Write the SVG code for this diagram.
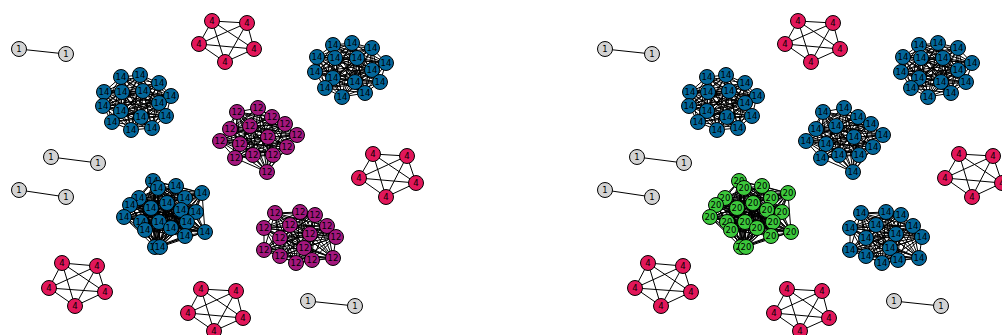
<svg xmlns="http://www.w3.org/2000/svg" xmlns:xlink="http://www.w3.org/1999/xlink" width="1002" height="335" viewBox="0 0 1002 335">
<style>
.n circle{stroke:#000;stroke-width:1}
.n text{font-family:"DejaVu Sans","Liberation Sans",sans-serif;font-size:8.5px;text-anchor:middle;fill:#000}
.b circle{fill:#03669a}
.m circle{fill:#a3177d}
.r circle{fill:#e2175a}
.g circle{fill:#3cc83c}
.w circle{fill:#d3d3d3}
</style>
<rect width="1002" height="335" fill="#fff"/>
<g id="connectors">
<g id="edgesL" fill="none" stroke="#000" stroke-width="1" stroke-linejoin="round">
<path id="eA" d="M152 128 121 77 140 75 131 130 159 83 112 122 104 92 166 116 122 92 141 117 143 91 121 111 171 96 159 103 103 106 152 128 140 75 159 83 121 77 104 92 131 130 122 92 112 122 143 91 166 116 171 96 141 117 103 106 121 111 159 103 152 128 159 83 104 92 140 75 122 92 121 77 143 91 131 130 171 96 112 122 103 106 166 116 159 103 141 117 121 111 152 128 104 92 122 92 159 83 143 91 140 75 171 96 121 77 103 106 131 130 159 103 112 122 121 111 166 116 141 117 152 128 122 92 143 91 104 92 171 96 159 83 103 106 140 75 159 103 121 77 121 111 131 130 141 117 112 122 166 116 152 128 143 91 171 96 122 92 103 106 104 92 159 103 159 83 121 111 140 75 141 117 121 77 166 116 131 130 112 122 152 128 171 96 103 106 143 91 159 103 122 92 121 111 104 92 141 117 159 83 166 116 140 75 112 122 121 77 131 130 152 128"/>
<path id="eB" d="M365 93 333 45 352 43 342 97 372 48 325 88 317 57 380 82 335 58 355 82 357 58 333 78 386 63 372 70 315 72 365 93 352 43 372 48 333 45 317 57 342 97 335 58 325 88 357 58 380 82 386 63 355 82 315 72 333 78 372 70 365 93 372 48 317 57 352 43 335 58 333 45 357 58 342 97 386 63 325 88 315 72 380 82 372 70 355 82 333 78 365 93 317 57 335 58 372 48 357 58 352 43 386 63 333 45 315 72 342 97 372 70 325 88 333 78 380 82 355 82 365 93 335 58 357 58 317 57 386 63 372 48 315 72 352 43 372 70 333 45 333 78 342 97 355 82 325 88 380 82 365 93 357 58 386 63 335 58 315 72 317 57 372 70 372 48 333 78 352 43 355 82 333 45 380 82 342 97 325 88 365 93 386 63 315 72 357 58 372 70 335 58 333 78 317 57 355 82 372 48 380 82 352 43 325 88 333 45 342 97 365 93"/>
<path id="eC" d="M267 172 237 112 258 108 273 155 272 117 253 155 285 124 235 158 250 126 287 147 230 129 240 144 297 135 268 137 220 141 267 172 258 108 272 117 237 112 285 124 273 155 250 126 253 155 230 129 235 158 297 135 287 147 220 141 240 144 268 137 267 172 272 117 285 124 258 108 250 126 237 112 230 129 273 155 297 135 253 155 220 141 235 158 268 137 287 147 240 144 267 172 285 124 250 126 272 117 230 129 258 108 297 135 237 112 220 141 273 155 268 137 253 155 240 144 235 158 287 147 267 172 250 126 230 129 285 124 297 135 272 117 220 141 258 108 268 137 237 112 240 144 273 155 287 147 253 155 235 158 267 172 230 129 297 135 250 126 220 141 285 124 268 137 272 117 240 144 258 108 287 147 237 112 235 158 273 155 253 155 267 172 297 135 220 141 230 129 268 137 250 126 240 144 285 124 287 147 272 117 235 158 258 108 253 155 237 112 273 155 267 172"/>
<path id="eD" d="M333 258 275 213 300 212 312 260 315 215 296 263 327 226 280 256 264 228 264 250 290 225 304 248 310 234 280 238 336 237 333 258 300 212 315 215 275 213 327 226 312 260 264 228 296 263 290 225 280 256 310 234 264 250 336 237 304 248 280 238 333 258 315 215 327 226 300 212 264 228 275 213 290 225 312 260 310 234 296 263 336 237 280 256 280 238 264 250 304 248 333 258 327 226 264 228 315 215 290 225 300 212 310 234 275 213 336 237 312 260 280 238 296 263 304 248 280 256 264 250 333 258 264 228 290 225 327 226 310 234 315 215 336 237 300 212 280 238 275 213 304 248 312 260 264 250 296 263 280 256 333 258 290 225 310 234 264 228 336 237 327 226 280 238 315 215 304 248 300 212 264 250 275 213 280 256 312 260 296 263 333 258 310 234 336 237 290 225 280 238 264 228 304 248 327 226 264 250 315 215 280 256 300 212 296 263 275 213 312 260 333 258"/>
<path id="eE" d="M160 247 153 181 158 188 155 247 176 186 185 236 202 193 205 232 139 198 171 228 185 198 145 230 167 203 187 222 130 205 159 222 151 208 141 222 181 210 124 217 196 212 160 247 158 188 176 186 153 181 202 193 155 247 139 198 185 236 185 198 205 232 167 203 171 228 130 205 145 230 151 208 187 222 181 210 159 222 196 212 141 222 124 217 160 247 176 186 202 193 158 188 139 198 153 181 185 198 155 247 167 203 185 236 130 205 205 232 151 208 171 228 181 210 145 230 196 212 187 222 124 217 159 222 141 222 160 247 202 193 139 198 176 186 185 198 158 188 167 203 153 181 130 205 155 247 151 208 185 236 181 210 205 232 196 212 171 228 124 217 145 230 141 222 187 222 159 222 160 247 139 198 185 198 202 193 167 203 176 186 130 205 158 188 151 208 153 181 181 210 155 247 196 212 185 236 124 217 205 232 141 222 171 228 159 222 145 230 187 222 160 247 185 198 167 203 139 198 130 205 202 193 151 208 176 186 181 210 158 188 196 212 153 181 124 217 155 247 141 222 185 236 159 222 205 232 187 222 171 228 145 230 160 247 167 203 130 205 185 198 151 208 139 198 181 210 202 193 196 212 176 186 124 217 158 188 141 222 153 181 159 222 155 247 187 222 185 236 145 230 205 232 171 228 160 247 130 205 151 208 167 203 181 210 185 198 196 212 139 198 124 217 202 193 141 222 176 186 159 222 158 188 187 222 153 181 145 230 155 247 171 228 185 236 205 232 160 247 151 208 181 210 130 205 196 212 167 203 124 217 185 198 141 222 139 198 159 222 202 193 187 222 176 186 145 230 158 188 171 228 153 181 205 232 155 247 185 236 160 247 181 210 196 212 151 208 124 217 130 205 141 222 167 203 159 222 185 198 187 222 139 198 145 230 202 193 171 228 176 186 205 232 158 188 185 236 153 181 155 247 160 247"/>
<path id="eR1" d="M225 62 212 21 247 23 199 44 254 49 225 62 247 23 254 49 212 21 199 44 225 62"/>
<path id="eR2" d="M386 197 373 154 407 156 359 178 416 183 386 197 407 156 416 183 373 154 359 178 386 197"/>
<path id="eR3" d="M75 306 62 263 97 266 49 288 105 292 75 306 97 266 105 292 62 263 49 288 75 306"/>
<path id="eR4" d="M214 331 201 289 236 291 188 313 243 318 214 331 236 291 243 318 201 289 188 313 214 331"/>
<path id="eP" d="M19 49 66 54M51 157 98 163M19 190 66 197M308 301 355 306"/>
</g>
<use xlink:href="#edgesL" href="#edgesL" x="586" y="0"/>
</g>
<g id="nodesL">
<g id="la1" class="n b" transform="translate(121 77)"><circle r="7.5"/><text y="3">14</text></g>
<g id="la2" class="n b" transform="translate(140 75)"><circle r="7.5"/><text y="3">14</text></g>
<g id="la3" class="n b" transform="translate(159 83)"><circle r="7.5"/><text y="3">14</text></g>
<g id="la4" class="n b" transform="translate(104 92)"><circle r="7.5"/><text y="3">14</text></g>
<g id="la5" class="n b" transform="translate(122 92)"><circle r="7.5"/><text y="3">14</text></g>
<g id="la6" class="n b" transform="translate(143 91)"><circle r="7.5"/><text y="3">14</text></g>
<g id="la7" class="n b" transform="translate(171 96)"><circle r="7.5"/><text y="3">14</text></g>
<g id="la8" class="n b" transform="translate(103 106)"><circle r="7.5"/><text y="3">14</text></g>
<g id="la9" class="n b" transform="translate(159 103)"><circle r="7.5"/><text y="3">14</text></g>
<g id="la10" class="n b" transform="translate(121 111)"><circle r="7.5"/><text y="3">14</text></g>
<g id="la11" class="n b" transform="translate(141 117)"><circle r="7.5"/><text y="3">14</text></g>
<g id="la12" class="n b" transform="translate(166 116)"><circle r="7.5"/><text y="3">14</text></g>
<g id="la13" class="n b" transform="translate(112 122)"><circle r="7.5"/><text y="3">14</text></g>
<g id="la14" class="n b" transform="translate(131 130)"><circle r="7.5"/><text y="3">14</text></g>
<g id="la15" class="n b" transform="translate(152 128)"><circle r="7.5"/><text y="3">14</text></g>
<g id="lb1" class="n b" transform="translate(333 45)"><circle r="7.5"/><text y="3">14</text></g>
<g id="lb2" class="n b" transform="translate(352 43)"><circle r="7.5"/><text y="3">14</text></g>
<g id="lb3" class="n b" transform="translate(372 48)"><circle r="7.5"/><text y="3">14</text></g>
<g id="lb4" class="n b" transform="translate(317 57)"><circle r="7.5"/><text y="3">14</text></g>
<g id="lb5" class="n b" transform="translate(335 58)"><circle r="7.5"/><text y="3">14</text></g>
<g id="lb6" class="n b" transform="translate(357 58)"><circle r="7.5"/><text y="3">14</text></g>
<g id="lb7" class="n b" transform="translate(386 63)"><circle r="7.5"/><text y="3">14</text></g>
<g id="lb8" class="n b" transform="translate(315 72)"><circle r="7.5"/><text y="3">14</text></g>
<g id="lb9" class="n b" transform="translate(372 70)"><circle r="7.5"/><text y="3">14</text></g>
<g id="lb10" class="n b" transform="translate(333 78)"><circle r="7.5"/><text y="3">14</text></g>
<g id="lb11" class="n b" transform="translate(355 82)"><circle r="7.5"/><text y="3">14</text></g>
<g id="lb12" class="n b" transform="translate(380 82)"><circle r="7.5"/><text y="3">14</text></g>
<g id="lb13" class="n b" transform="translate(325 88)"><circle r="7.5"/><text y="3">14</text></g>
<g id="lb14" class="n b" transform="translate(342 97)"><circle r="7.5"/><text y="3">14</text></g>
<g id="lb15" class="n b" transform="translate(365 93)"><circle r="7.5"/><text y="3">14</text></g>
<g id="lc1" class="n m" transform="translate(237 112)"><circle r="7.5"/><text y="3">12</text></g>
<g id="lc2" class="n m" transform="translate(258 108)"><circle r="7.5"/><text y="3">12</text></g>
<g id="lc3" class="n m" transform="translate(272 117)"><circle r="7.5"/><text y="3">12</text></g>
<g id="lc4" class="n m" transform="translate(285 124)"><circle r="7.5"/><text y="3">12</text></g>
<g id="lc5" class="n m" transform="translate(250 126)"><circle r="7.5"/><text y="3">12</text></g>
<g id="lc6" class="n m" transform="translate(230 129)"><circle r="7.5"/><text y="3">12</text></g>
<g id="lc7" class="n m" transform="translate(297 135)"><circle r="7.5"/><text y="3">12</text></g>
<g id="lc8" class="n m" transform="translate(220 141)"><circle r="7.5"/><text y="3">12</text></g>
<g id="lc9" class="n m" transform="translate(268 137)"><circle r="7.5"/><text y="3">12</text></g>
<g id="lc10" class="n m" transform="translate(240 144)"><circle r="7.5"/><text y="3">12</text></g>
<g id="lc11" class="n m" transform="translate(287 147)"><circle r="7.5"/><text y="3">12</text></g>
<g id="lc12" class="n m" transform="translate(235 158)"><circle r="7.5"/><text y="3">12</text></g>
<g id="lc13" class="n m" transform="translate(253 155)"><circle r="7.5"/><text y="3">12</text></g>
<g id="lc14" class="n m" transform="translate(273 155)"><circle r="7.5"/><text y="3">12</text></g>
<g id="lc15" class="n m" transform="translate(267 172)"><circle r="7.5"/><text y="3">12</text></g>
<g id="ld1" class="n m" transform="translate(275 213)"><circle r="7.5"/><text y="3">12</text></g>
<g id="ld2" class="n m" transform="translate(300 212)"><circle r="7.5"/><text y="3">12</text></g>
<g id="ld3" class="n m" transform="translate(315 215)"><circle r="7.5"/><text y="3">12</text></g>
<g id="ld4" class="n m" transform="translate(327 226)"><circle r="7.5"/><text y="3">12</text></g>
<g id="ld5" class="n m" transform="translate(264 228)"><circle r="7.5"/><text y="3">12</text></g>
<g id="ld6" class="n m" transform="translate(290 225)"><circle r="7.5"/><text y="3">12</text></g>
<g id="ld7" class="n m" transform="translate(310 234)"><circle r="7.5"/><text y="3">12</text></g>
<g id="ld8" class="n m" transform="translate(336 237)"><circle r="7.5"/><text y="3">12</text></g>
<g id="ld9" class="n m" transform="translate(280 238)"><circle r="7.5"/><text y="3">12</text></g>
<g id="ld10" class="n m" transform="translate(304 248)"><circle r="7.5"/><text y="3">12</text></g>
<g id="ld11" class="n m" transform="translate(264 250)"><circle r="7.5"/><text y="3">12</text></g>
<g id="ld12" class="n m" transform="translate(280 256)"><circle r="7.5"/><text y="3">12</text></g>
<g id="ld13" class="n m" transform="translate(296 263)"><circle r="7.5"/><text y="3">12</text></g>
<g id="ld14" class="n m" transform="translate(312 260)"><circle r="7.5"/><text y="3">12</text></g>
<g id="ld15" class="n m" transform="translate(333 258)"><circle r="7.5"/><text y="3">12</text></g>
<g id="le1" class="n b" transform="translate(153 181)"><circle r="7.5"/><text y="3">14</text></g>
<g id="le2" class="n b" transform="translate(158 188)"><circle r="7.5"/><text y="3">14</text></g>
<g id="le3" class="n b" transform="translate(176 186)"><circle r="7.5"/><text y="3">14</text></g>
<g id="le4" class="n b" transform="translate(202 193)"><circle r="7.5"/><text y="3">14</text></g>
<g id="le5" class="n b" transform="translate(139 198)"><circle r="7.5"/><text y="3">14</text></g>
<g id="le6" class="n b" transform="translate(185 198)"><circle r="7.5"/><text y="3">14</text></g>
<g id="le7" class="n b" transform="translate(167 203)"><circle r="7.5"/><text y="3">14</text></g>
<g id="le8" class="n b" transform="translate(130 205)"><circle r="7.5"/><text y="3">14</text></g>
<g id="le9" class="n b" transform="translate(151 208)"><circle r="7.5"/><text y="3">14</text></g>
<g id="le10" class="n b" transform="translate(181 210)"><circle r="7.5"/><text y="3">14</text></g>
<g id="le11" class="n b" transform="translate(196 212)"><circle r="7.5"/><text y="3">14</text></g>
<g id="le12" class="n b" transform="translate(124 217)"><circle r="7.5"/><text y="3">14</text></g>
<g id="le13" class="n b" transform="translate(141 222)"><circle r="7.5"/><text y="3">14</text></g>
<g id="le14" class="n b" transform="translate(159 222)"><circle r="7.5"/><text y="3">14</text></g>
<g id="le15" class="n b" transform="translate(187 222)"><circle r="7.5"/><text y="3">14</text></g>
<g id="le16" class="n b" transform="translate(145 230)"><circle r="7.5"/><text y="3">14</text></g>
<g id="le17" class="n b" transform="translate(171 228)"><circle r="7.5"/><text y="3">14</text></g>
<g id="le18" class="n b" transform="translate(205 232)"><circle r="7.5"/><text y="3">14</text></g>
<g id="le19" class="n b" transform="translate(185 236)"><circle r="7.5"/><text y="3">14</text></g>
<g id="le20" class="n b" transform="translate(155 247)"><circle r="7.5"/><text y="3">14</text></g>
<g id="le21" class="n b" transform="translate(160 247)"><circle r="7.5"/><text y="3">14</text></g>
<g id="lr1a" class="n r" transform="translate(212 21)"><circle r="7.5"/><text y="3">4</text></g>
<g id="lr1b" class="n r" transform="translate(247 23)"><circle r="7.5"/><text y="3">4</text></g>
<g id="lr1c" class="n r" transform="translate(254 49)"><circle r="7.5"/><text y="3">4</text></g>
<g id="lr1d" class="n r" transform="translate(199 44)"><circle r="7.5"/><text y="3">4</text></g>
<g id="lr1e" class="n r" transform="translate(225 62)"><circle r="7.5"/><text y="3">4</text></g>
<g id="lr2a" class="n r" transform="translate(373 154)"><circle r="7.5"/><text y="3">4</text></g>
<g id="lr2b" class="n r" transform="translate(407 156)"><circle r="7.5"/><text y="3">4</text></g>
<g id="lr2c" class="n r" transform="translate(416 183)"><circle r="7.5"/><text y="3">4</text></g>
<g id="lr2d" class="n r" transform="translate(359 178)"><circle r="7.5"/><text y="3">4</text></g>
<g id="lr2e" class="n r" transform="translate(386 197)"><circle r="7.5"/><text y="3">4</text></g>
<g id="lr3a" class="n r" transform="translate(62 263)"><circle r="7.5"/><text y="3">4</text></g>
<g id="lr3b" class="n r" transform="translate(97 266)"><circle r="7.5"/><text y="3">4</text></g>
<g id="lr3c" class="n r" transform="translate(105 292)"><circle r="7.5"/><text y="3">4</text></g>
<g id="lr3d" class="n r" transform="translate(49 288)"><circle r="7.5"/><text y="3">4</text></g>
<g id="lr3e" class="n r" transform="translate(75 306)"><circle r="7.5"/><text y="3">4</text></g>
<g id="lr4a" class="n r" transform="translate(201 289)"><circle r="7.5"/><text y="3">4</text></g>
<g id="lr4b" class="n r" transform="translate(236 291)"><circle r="7.5"/><text y="3">4</text></g>
<g id="lr4c" class="n r" transform="translate(243 318)"><circle r="7.5"/><text y="3">4</text></g>
<g id="lr4d" class="n r" transform="translate(188 313)"><circle r="7.5"/><text y="3">4</text></g>
<g id="lr4e" class="n r" transform="translate(214 331)"><circle r="7.5"/><text y="3">4</text></g>
<g id="lp1a" class="n w" transform="translate(19 49)"><circle r="7.5"/><text y="3">1</text></g>
<g id="lp1b" class="n w" transform="translate(66 54)"><circle r="7.5"/><text y="3">1</text></g>
<g id="lp2a" class="n w" transform="translate(51 157)"><circle r="7.5"/><text y="3">1</text></g>
<g id="lp2b" class="n w" transform="translate(98 163)"><circle r="7.5"/><text y="3">1</text></g>
<g id="lp3a" class="n w" transform="translate(19 190)"><circle r="7.5"/><text y="3">1</text></g>
<g id="lp3b" class="n w" transform="translate(66 197)"><circle r="7.5"/><text y="3">1</text></g>
<g id="lp4a" class="n w" transform="translate(308 301)"><circle r="7.5"/><text y="3">1</text></g>
<g id="lp4b" class="n w" transform="translate(355 306)"><circle r="7.5"/><text y="3">1</text></g>
</g>
<g id="nodesR">
<g id="ra1" class="n b" transform="translate(707 77)"><circle r="7.5"/><text y="3">14</text></g>
<g id="ra2" class="n b" transform="translate(726 75)"><circle r="7.5"/><text y="3">14</text></g>
<g id="ra3" class="n b" transform="translate(745 83)"><circle r="7.5"/><text y="3">14</text></g>
<g id="ra4" class="n b" transform="translate(690 92)"><circle r="7.5"/><text y="3">14</text></g>
<g id="ra5" class="n b" transform="translate(708 92)"><circle r="7.5"/><text y="3">14</text></g>
<g id="ra6" class="n b" transform="translate(729 91)"><circle r="7.5"/><text y="3">14</text></g>
<g id="ra7" class="n b" transform="translate(757 96)"><circle r="7.5"/><text y="3">14</text></g>
<g id="ra8" class="n b" transform="translate(689 106)"><circle r="7.5"/><text y="3">14</text></g>
<g id="ra9" class="n b" transform="translate(745 103)"><circle r="7.5"/><text y="3">14</text></g>
<g id="ra10" class="n b" transform="translate(707 111)"><circle r="7.5"/><text y="3">14</text></g>
<g id="ra11" class="n b" transform="translate(727 117)"><circle r="7.5"/><text y="3">14</text></g>
<g id="ra12" class="n b" transform="translate(752 116)"><circle r="7.5"/><text y="3">14</text></g>
<g id="ra13" class="n b" transform="translate(698 122)"><circle r="7.5"/><text y="3">14</text></g>
<g id="ra14" class="n b" transform="translate(717 130)"><circle r="7.5"/><text y="3">14</text></g>
<g id="ra15" class="n b" transform="translate(738 128)"><circle r="7.5"/><text y="3">14</text></g>
<g id="rb1" class="n b" transform="translate(919 45)"><circle r="7.5"/><text y="3">14</text></g>
<g id="rb2" class="n b" transform="translate(938 43)"><circle r="7.5"/><text y="3">14</text></g>
<g id="rb3" class="n b" transform="translate(958 48)"><circle r="7.5"/><text y="3">14</text></g>
<g id="rb4" class="n b" transform="translate(903 57)"><circle r="7.5"/><text y="3">14</text></g>
<g id="rb5" class="n b" transform="translate(921 58)"><circle r="7.5"/><text y="3">14</text></g>
<g id="rb6" class="n b" transform="translate(943 58)"><circle r="7.5"/><text y="3">14</text></g>
<g id="rb7" class="n b" transform="translate(972 63)"><circle r="7.5"/><text y="3">14</text></g>
<g id="rb8" class="n b" transform="translate(901 72)"><circle r="7.5"/><text y="3">14</text></g>
<g id="rb9" class="n b" transform="translate(958 70)"><circle r="7.5"/><text y="3">14</text></g>
<g id="rb10" class="n b" transform="translate(919 78)"><circle r="7.5"/><text y="3">14</text></g>
<g id="rb11" class="n b" transform="translate(941 82)"><circle r="7.5"/><text y="3">14</text></g>
<g id="rb12" class="n b" transform="translate(966 82)"><circle r="7.5"/><text y="3">14</text></g>
<g id="rb13" class="n b" transform="translate(911 88)"><circle r="7.5"/><text y="3">14</text></g>
<g id="rb14" class="n b" transform="translate(928 97)"><circle r="7.5"/><text y="3">14</text></g>
<g id="rb15" class="n b" transform="translate(951 93)"><circle r="7.5"/><text y="3">14</text></g>
<g id="rc1" class="n b" transform="translate(823 112)"><circle r="7.5"/><text y="3">14</text></g>
<g id="rc2" class="n b" transform="translate(844 108)"><circle r="7.5"/><text y="3">14</text></g>
<g id="rc3" class="n b" transform="translate(858 117)"><circle r="7.5"/><text y="3">14</text></g>
<g id="rc4" class="n b" transform="translate(871 124)"><circle r="7.5"/><text y="3">14</text></g>
<g id="rc5" class="n b" transform="translate(836 126)"><circle r="7.5"/><text y="3">14</text></g>
<g id="rc6" class="n b" transform="translate(816 129)"><circle r="7.5"/><text y="3">14</text></g>
<g id="rc7" class="n b" transform="translate(883 135)"><circle r="7.5"/><text y="3">14</text></g>
<g id="rc8" class="n b" transform="translate(806 141)"><circle r="7.5"/><text y="3">14</text></g>
<g id="rc9" class="n b" transform="translate(854 137)"><circle r="7.5"/><text y="3">14</text></g>
<g id="rc10" class="n b" transform="translate(826 144)"><circle r="7.5"/><text y="3">14</text></g>
<g id="rc11" class="n b" transform="translate(873 147)"><circle r="7.5"/><text y="3">14</text></g>
<g id="rc12" class="n b" transform="translate(821 158)"><circle r="7.5"/><text y="3">14</text></g>
<g id="rc13" class="n b" transform="translate(839 155)"><circle r="7.5"/><text y="3">14</text></g>
<g id="rc14" class="n b" transform="translate(859 155)"><circle r="7.5"/><text y="3">14</text></g>
<g id="rc15" class="n b" transform="translate(853 172)"><circle r="7.5"/><text y="3">14</text></g>
<g id="rd1" class="n b" transform="translate(861 213)"><circle r="7.5"/><text y="3">14</text></g>
<g id="rd2" class="n b" transform="translate(886 212)"><circle r="7.5"/><text y="3">14</text></g>
<g id="rd3" class="n b" transform="translate(901 215)"><circle r="7.5"/><text y="3">14</text></g>
<g id="rd4" class="n b" transform="translate(913 226)"><circle r="7.5"/><text y="3">14</text></g>
<g id="rd5" class="n b" transform="translate(850 228)"><circle r="7.5"/><text y="3">14</text></g>
<g id="rd6" class="n b" transform="translate(876 225)"><circle r="7.5"/><text y="3">14</text></g>
<g id="rd7" class="n b" transform="translate(896 234)"><circle r="7.5"/><text y="3">14</text></g>
<g id="rd8" class="n b" transform="translate(922 237)"><circle r="7.5"/><text y="3">14</text></g>
<g id="rd9" class="n b" transform="translate(866 238)"><circle r="7.5"/><text y="3">14</text></g>
<g id="rd10" class="n b" transform="translate(890 248)"><circle r="7.5"/><text y="3">14</text></g>
<g id="rd11" class="n b" transform="translate(850 250)"><circle r="7.5"/><text y="3">14</text></g>
<g id="rd12" class="n b" transform="translate(866 256)"><circle r="7.5"/><text y="3">14</text></g>
<g id="rd13" class="n b" transform="translate(882 263)"><circle r="7.5"/><text y="3">14</text></g>
<g id="rd14" class="n b" transform="translate(898 260)"><circle r="7.5"/><text y="3">14</text></g>
<g id="rd15" class="n b" transform="translate(919 258)"><circle r="7.5"/><text y="3">14</text></g>
<g id="re1" class="n g" transform="translate(739 181)"><circle r="7.5"/><text y="3">20</text></g>
<g id="re2" class="n g" transform="translate(744 188)"><circle r="7.5"/><text y="3">20</text></g>
<g id="re3" class="n g" transform="translate(762 186)"><circle r="7.5"/><text y="3">20</text></g>
<g id="re4" class="n g" transform="translate(788 193)"><circle r="7.5"/><text y="3">20</text></g>
<g id="re5" class="n g" transform="translate(725 198)"><circle r="7.5"/><text y="3">20</text></g>
<g id="re6" class="n g" transform="translate(771 198)"><circle r="7.5"/><text y="3">20</text></g>
<g id="re7" class="n g" transform="translate(753 203)"><circle r="7.5"/><text y="3">20</text></g>
<g id="re8" class="n g" transform="translate(716 205)"><circle r="7.5"/><text y="3">20</text></g>
<g id="re9" class="n g" transform="translate(737 208)"><circle r="7.5"/><text y="3">20</text></g>
<g id="re10" class="n g" transform="translate(767 210)"><circle r="7.5"/><text y="3">20</text></g>
<g id="re11" class="n g" transform="translate(782 212)"><circle r="7.5"/><text y="3">20</text></g>
<g id="re12" class="n g" transform="translate(710 217)"><circle r="7.5"/><text y="3">20</text></g>
<g id="re13" class="n g" transform="translate(727 222)"><circle r="7.5"/><text y="3">20</text></g>
<g id="re14" class="n g" transform="translate(745 222)"><circle r="7.5"/><text y="3">20</text></g>
<g id="re15" class="n g" transform="translate(773 222)"><circle r="7.5"/><text y="3">20</text></g>
<g id="re16" class="n g" transform="translate(731 230)"><circle r="7.5"/><text y="3">20</text></g>
<g id="re17" class="n g" transform="translate(757 228)"><circle r="7.5"/><text y="3">20</text></g>
<g id="re18" class="n g" transform="translate(791 232)"><circle r="7.5"/><text y="3">20</text></g>
<g id="re19" class="n g" transform="translate(771 236)"><circle r="7.5"/><text y="3">20</text></g>
<g id="re20" class="n g" transform="translate(741 247)"><circle r="7.5"/><text y="3">20</text></g>
<g id="re21" class="n g" transform="translate(746 247)"><circle r="7.5"/><text y="3">20</text></g>
<g id="rr1a" class="n r" transform="translate(798 21)"><circle r="7.5"/><text y="3">4</text></g>
<g id="rr1b" class="n r" transform="translate(833 23)"><circle r="7.5"/><text y="3">4</text></g>
<g id="rr1c" class="n r" transform="translate(840 49)"><circle r="7.5"/><text y="3">4</text></g>
<g id="rr1d" class="n r" transform="translate(785 44)"><circle r="7.5"/><text y="3">4</text></g>
<g id="rr1e" class="n r" transform="translate(811 62)"><circle r="7.5"/><text y="3">4</text></g>
<g id="rr2a" class="n r" transform="translate(959 154)"><circle r="7.5"/><text y="3">4</text></g>
<g id="rr2b" class="n r" transform="translate(993 156)"><circle r="7.5"/><text y="3">4</text></g>
<g id="rr2c" class="n r" transform="translate(1002 183)"><circle r="7.5"/><text y="3">4</text></g>
<g id="rr2d" class="n r" transform="translate(945 178)"><circle r="7.5"/><text y="3">4</text></g>
<g id="rr2e" class="n r" transform="translate(972 197)"><circle r="7.5"/><text y="3">4</text></g>
<g id="rr3a" class="n r" transform="translate(648 263)"><circle r="7.5"/><text y="3">4</text></g>
<g id="rr3b" class="n r" transform="translate(683 266)"><circle r="7.5"/><text y="3">4</text></g>
<g id="rr3c" class="n r" transform="translate(691 292)"><circle r="7.5"/><text y="3">4</text></g>
<g id="rr3d" class="n r" transform="translate(635 288)"><circle r="7.5"/><text y="3">4</text></g>
<g id="rr3e" class="n r" transform="translate(661 306)"><circle r="7.5"/><text y="3">4</text></g>
<g id="rr4a" class="n r" transform="translate(787 289)"><circle r="7.5"/><text y="3">4</text></g>
<g id="rr4b" class="n r" transform="translate(822 291)"><circle r="7.5"/><text y="3">4</text></g>
<g id="rr4c" class="n r" transform="translate(829 318)"><circle r="7.5"/><text y="3">4</text></g>
<g id="rr4d" class="n r" transform="translate(774 313)"><circle r="7.5"/><text y="3">4</text></g>
<g id="rr4e" class="n r" transform="translate(800 331)"><circle r="7.5"/><text y="3">4</text></g>
<g id="rp1a" class="n w" transform="translate(605 49)"><circle r="7.5"/><text y="3">1</text></g>
<g id="rp1b" class="n w" transform="translate(652 54)"><circle r="7.5"/><text y="3">1</text></g>
<g id="rp2a" class="n w" transform="translate(637 157)"><circle r="7.5"/><text y="3">1</text></g>
<g id="rp2b" class="n w" transform="translate(684 163)"><circle r="7.5"/><text y="3">1</text></g>
<g id="rp3a" class="n w" transform="translate(605 190)"><circle r="7.5"/><text y="3">1</text></g>
<g id="rp3b" class="n w" transform="translate(652 197)"><circle r="7.5"/><text y="3">1</text></g>
<g id="rp4a" class="n w" transform="translate(894 301)"><circle r="7.5"/><text y="3">1</text></g>
<g id="rp4b" class="n w" transform="translate(941 306)"><circle r="7.5"/><text y="3">1</text></g>
</g>
</svg>
